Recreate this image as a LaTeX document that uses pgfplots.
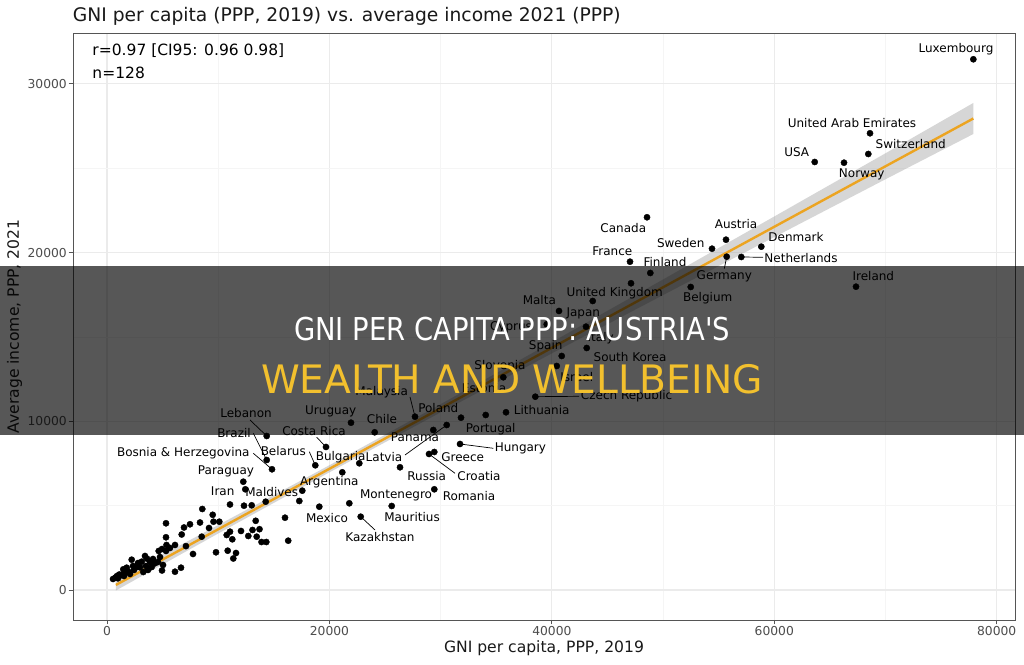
\documentclass[border=0pt]{standalone}
\usepackage{fontspec}
\setmainfont{DejaVu Sans}
\newfontfamily\condfont[FakeStretch=0.87]{DejaVu Sans}
\usepackage{pgfplots}
\pgfplotsset{compat=1.18}

\definecolor{gridmajor}{RGB}{235,235,235}
\definecolor{gridminor}{RGB}{245,245,245}
\definecolor{framegray}{RGB}{85,85,85}
\definecolor{tickgray}{RGB}{77,77,77}
\definecolor{fitorange}{RGB}{236,164,33}
\definecolor{bandgray}{RGB}{153,153,153}
\definecolor{bannergold}{RGB}{242,192,46}

\newcommand{\lbl}{\fontsize{12bp}{14bp}\selectfont}

% GNI per capita (PPP, 2019) and average income (PPP, 2021), one row per country
\pgfplotstableread{
gni    inc
77900  31460
68609  27073
68456  25846
63636  25372
66271  25330
48557  22094
55660  20766
54402  20232
58835  20351
47028  19462
57036  19740
55723  19758
48854  18792
67350  17980
52486  17962
47118  18181
43674  17132
40644  16539
39538  15751
43072  15609
43135  14346
40887  13872
40437  13279
35635  12609
38513  11459
35878  10534
34053  10374
31832  10214
30546  9781
29341  9485
27695  10273
24072  9348
21940  9918
31742  8655
29431  8181
28954  8062
26347  7274
29431  5970
25600  4980
21788  5140
22813  4345
16006  4286
17561  5887
14270  5234
12436  5970
12256  6420
14837  7155
14360  7706
14360  9129
18730  7392
19692  8477
21158  6977
22687  7511
17292  5276
19090  4938
11060  5068
12319  4997
13011  5021
8569   4802
9505   4458
9576   4049
10098  4049
13371  4102
5305   3954
6924   3705
7463   3895
8363   4001
6717   3290
5305   3124
8515   3160
7733   2134
9801   2235
10853  2330
11357  1867
10763  3260
11060  3456
11267  3005
12706  3201
13083  3557
13713  3604
13461  3160
13893  2845
14324  2845
16294  2923
6115   1085
6654   1322
4946   1156
5036   1482
5305   2312
4649   2312
4586   1660
3867   1660
3597   1855
3120   1678
3264   1067
2671   1363
2221   1796
1466   1227
989    694
764    741
1322   889
1619   1008
1915   1085
2967   1346
4316   1583
4019   1363
5350   2668
2428   1186
1771   1322
1106   919
540    652
899    830
1529   830
2068   948
2338   1423
2788   1600
3507   1423
3687   1186
4136   1838
4766   1956
3417   2016
5665   2490
4946   2430
6115   2668
11600  2193
12049  3498
9172   3675
7100   2600
}\countries

\begin{document}
\begin{tikzpicture}[x=1bp,y=1bp]
\fill[white] (0,0) rectangle (1024,665);
\useasboundingbox (0,0) rectangle (1024,665);

\node[anchor=base west, font=\fontsize{18.7bp}{22bp}\selectfont, text=black!90, inner sep=0pt] at (72.7,643)
  {GNI per capita (PPP, 2019) vs. average income 2021 (PPP)};

\begin{axis}[
  at={(107bp,75bp)}, anchor=origin,
  width=942bp, height=587bp, scale only axis,
  xmin=-3057, xmax=81647, ymin=-1778, ymax=33019,
  xtick={0,20000,40000,60000,80000},
  ytick={0,10000,20000,30000},
  minor xtick={10000,30000,50000,70000},
  minor ytick={5000,15000,25000},
  scaled ticks=false,
  grid=both,
  major grid style={color=gridmajor, line width=1.1bp},
  minor grid style={color=gridminor, line width=0.6bp},
  axis line style={color=framegray, line width=0.9bp},
  tick align=outside,
  major tick length=4.5bp, minor tick length=0pt,
  tick style={color=framegray, line width=0.9bp},
  xtick pos=left, ytick pos=left,
  ticklabel style={font=\fontsize{12.3bp}{14bp}\selectfont, text=tickgray},
  yticklabel style={inner xsep=1.5bp},
  xticklabel style={inner ysep=2bp},
  /pgf/number format/.cd, 1000 sep={}, assume math mode=true,
]
% countries
\addplot[only marks, mark=*, mark size=3.1bp, mark options={fill=black, draw=black}]
  table[x=gni, y=inc] {\countries};

% 95% confidence band of the linear fit
\addplot[draw=none, fill=bandgray, fill opacity=0.4] coordinates {
  (800,630) (10000,3849) (20000,7396) (30000,11012) (40000,14688)
  (50000,18405) (60000,22141) (70000,25887) (77900,28870)
  (77900,27030) (70000,24347) (60000,20921) (50000,17485) (40000,14028)
  (30000,10532) (20000,6976) (10000,3349) (800,-30)
} -- cycle;
% linear fit
\addplot[fitorange, line width=2.4bp] coordinates {(800,300) (77900,27950)};

% statistics
\node[anchor=base west, font=\fontsize{15.5bp}{18bp}\selectfont, inner sep=0pt] at (axis cs:-1322,31656) {r=0.97 [CI95: 0.96 0.98]};
\node[anchor=base west, font=\fontsize{15.5bp}{18bp}\selectfont, inner sep=0pt] at (axis cs:-1322,30334) {n=128};

% leader lines
\begin{scope}[line width=0.7bp]
\draw (axis cs:57036,19740) -- (axis cs:58988,19722);
\draw (axis cs:55723,19758) -- (axis cs:55508,19047);
\draw (axis cs:38513,11459) -- (axis cs:42442,11482);
\draw (axis cs:27246,11441) -- (axis cs:27695,10273);
\draw (axis cs:26796,8003) -- (axis cs:30546,9781);
\draw (axis cs:12859,10078) -- (axis cs:14360,9129);
\draw (axis cs:13155,9289) -- (axis cs:14360,7706);
\draw (axis cs:13155,8103) -- (axis cs:14837,7155);
\draw (axis cs:18856,9052) -- (axis cs:19692,8477);
\draw (axis cs:18191,8198) -- (axis cs:18730,7392);
\draw (axis cs:31742,8655) -- (axis cs:34736,8400);
\draw (axis cs:31292,6918) -- (axis cs:28954,8062);
\draw (axis cs:24099,3557) -- (axis cs:22813,4345);
\end{scope}

% country names
\begin{scope}[every node/.style={font=\lbl, inner sep=0pt}]
\node at (axis cs:76342,32070) {Luxembourg};
\node at (axis cs:66990,27702) {United Arab Emirates};
\node at (axis cs:72269,26421) {Switzerland};
\node at (axis cs:62018,25982) {USA};
\node at (axis cs:67863,24660) {Norway};
\node at (axis cs:46426,21442) {Canada};
\node at (axis cs:56560,21679) {Austria};
\node at (axis cs:51587,20552) {Sweden};
\node at (axis cs:61955,20908) {Denmark};
\node at (axis cs:45437,20078) {France};
\node[anchor=west] at (axis cs:59100,19681) {Netherlands};
\node at (axis cs:55508,18614) {Germany};
\node at (axis cs:50175,19426) {Finland};
\node at (axis cs:68906,18614) {Ireland};
\node at (axis cs:54015,17292) {Belgium};
\node at (axis cs:45652,17588) {United Kingdom};
\node at (axis cs:38872,17191) {Malta};
\node at (axis cs:42829,16403) {Japan};
\node at (axis cs:36328,15591) {Cyprus};
\node at (axis cs:44393,14921) {Italy};
\node at (axis cs:39448,14482) {Spain};
\node at (axis cs:47028,13794) {South Korea};
\node at (axis cs:35339,13338) {Slovenia};
\node at (axis cs:42235,12609) {Israel};
\node at (axis cs:33900,11945) {Estonia};
\node[anchor=west] at (axis cs:42600,11500) {Czech Republic};
\node at (axis cs:39088,10670) {Lithuania};
\node at (axis cs:34502,9526) {Portugal};
\node at (axis cs:29791,10807) {Poland};
\node at (axis cs:24701,11720) {Malaysia};
\node at (axis cs:24908,7902) {Latvia};
\node at (axis cs:27695,9052) {Panama};
\node at (axis cs:24728,10137) {Chile};
\node at (axis cs:20115,10570) {Uruguay};
\node at (axis cs:12499,10475) {Lebanon};
\node at (axis cs:11420,9325) {Brazil};
\node at (axis cs:6861,8139) {Bosnia \& Herzegovina};
\node at (axis cs:18613,9426) {Costa Rica};
\node at (axis cs:15853,8258) {Belarus};
\node at (axis cs:21014,7866) {Bulgaria};
\node[anchor=west] at (axis cs:34850,8400) {Hungary};
\node at (axis cs:31985,7902) {Greece};
\node at (axis cs:33450,6758) {Croatia};
\node at (axis cs:28747,6758) {Russia};
\node at (axis cs:32551,5590) {Romania};
\node at (axis cs:25987,5590) {Montenegro};
\node at (axis cs:27426,4310) {Mauritius};
\node at (axis cs:24548,3160) {Kazakhstan};
\node at (axis cs:19782,4268) {Mexico};
\node at (axis cs:19989,6420) {Argentina};
\node at (axis cs:14810,5827) {Maldives};
\node at (axis cs:10404,5869) {Iran};
\node at (axis cs:10700,7013) {Paraguay};
\end{scope}
\end{axis}

\node[font=\fontsize{15.6bp}{18bp}\selectfont, text=black!90] at (544,17) {GNI per capita, PPP, 2019};
\node[rotate=90, font=\fontsize{15.6bp}{18bp}\selectfont, text=black!90] at (14.5,338.5) {Average income, PPP, 2021};

% headline band
\fill[black, opacity=0.66] (0,230) rectangle (1024,399);
\node[text=white, font=\condfont\fontsize{31.5bp}{36bp}\selectfont, inner sep=0pt] at (512,335.5) {GNI PER CAPITA PPP: AUSTRIA'S};
\node[text=bannergold, font=\fontsize{39.2bp}{44bp}\selectfont, inner sep=0pt] at (512,285.5) {WEALTH AND WELLBEING};
\end{tikzpicture}
\end{document}
